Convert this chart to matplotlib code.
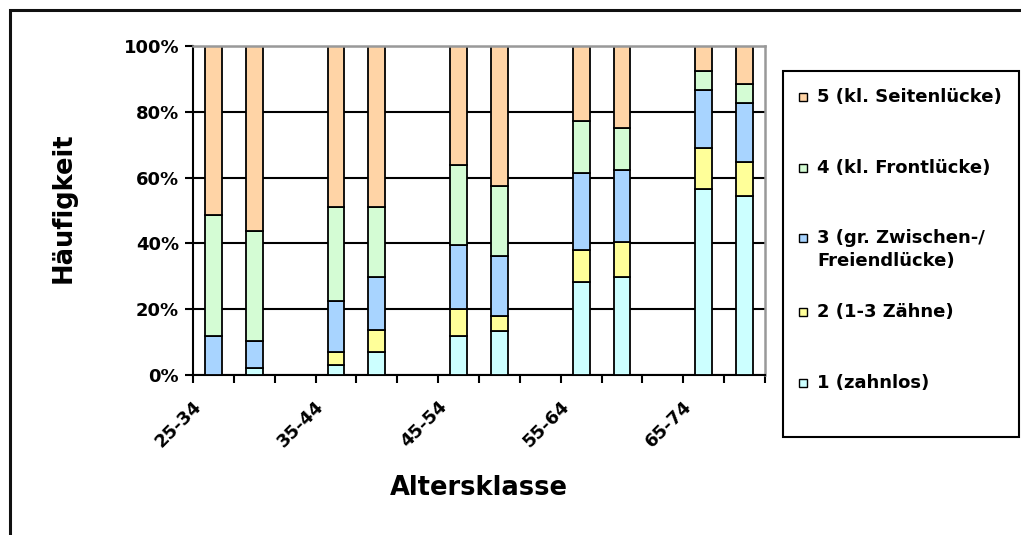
import matplotlib
matplotlib.use("Agg")
import matplotlib.pyplot as plt
from matplotlib.patches import Rectangle
from matplotlib.transforms import ScaledTranslation
import numpy as np

# ---------------- data ----------------
age_groups = ["25-34", "35-44", "45-54", "55-64", "65-74"]
series_names = ["1 (zahnlos)", "2 (1-3 Z\u00e4hne)", "3 (gr. Zwischen-/\nFreiendl\u00fccke)",
                "4 (kl. Frontl\u00fccke)", "5 (kl. Seitenl\u00fccke)"]
series_colors = ["#CCFFFF", "#FFFF99", "#A8D4FF", "#D4FCD4", "#FFD4A6"]
# two bars per age group (percent)
s1_zahnlos = [0.0, 2.0, 3.1, 6.9, 12.0, 13.5, 28.2, 29.8, 56.6, 54.4]
s2_1_3_zaehne = [0.0, 0.0, 3.8, 6.7, 8.1, 4.3, 9.8, 10.5, 12.3, 10.4]
s3_zwischen = [12.0, 8.3, 15.6, 16.2, 19.5, 18.3, 23.5, 22.0, 17.7, 17.8]
s4_front = [36.5, 33.4, 28.5, 21.2, 24.3, 21.4, 15.7, 12.9, 5.8, 5.8]
s5_seiten = [51.5, 56.3, 49.0, 49.0, 36.1, 42.5, 22.8, 24.8, 7.6, 11.6]
series_values = [s1_zahnlos, s2_1_3_zaehne, s3_zwischen, s4_front, s5_seiten]
y_ticks = [0, 20, 40, 60, 80, 100]

W, H = 1021, 535
fig = plt.figure(figsize=(W / 100, H / 100), dpi=100)
plt.rcParams['font.family'] = ['DejaVu Sans']

def fx(x):
    return x / W

def fy(y):
    return 1 - y / H

# outer chart frame (only top/left visible)
fig.add_artist(Rectangle((fx(9.5), fy(560)), fx(1100), fy(10) - fy(560), transform=fig.transFigure,
                         fill=False, edgecolor="#111111", linewidth=2.2, clip_on=False))

ax = fig.add_axes([fx(193), fy(375), fx(765) - fx(193), fy(46) - fy(375)])

n_slots = 3 * len(age_groups) - 1
positions = []
for i in range(len(age_groups)):
    positions += [3 * i, 3 * i + 1]
positions = np.array(positions, dtype=float)

bottom = np.zeros(len(positions))
for vals, col in zip(series_values, series_colors):
    v = np.array(vals)
    ax.bar(positions, v, width=0.41, bottom=bottom, color=col, edgecolor="black",
           linewidth=1.3, zorder=3)
    bottom += v

ax.set_xlim(-0.5, n_slots - 0.5)
ax.set_ylim(0, 100)
ax.set_axisbelow(True)

ax.set_yticks(y_ticks)
ax.set_yticklabels([f"{t}%" for t in y_ticks], fontsize=13, fontweight="bold")
ax.yaxis.grid(True, color="black", linewidth=1.5)
ax.tick_params(axis="y", direction="out", length=6, width=1.5, pad=4)

ax.set_xticks([3 * i for i in range(len(age_groups))])
ax.set_xticklabels(age_groups, fontsize=13, fontweight="bold", rotation=45,
                   ha="right", va="top", rotation_mode="anchor")
ax.set_xticks(np.arange(-0.5, n_slots, 1.0), minor=True)
ax.tick_params(axis="x", which="major", length=0, pad=16)
ax.tick_params(axis="x", which="minor", direction="out", length=6, width=1.5)
for lab in ax.get_xticklabels():
    lab.set_transform(lab.get_transform() + ScaledTranslation(-21 / 100, 0, fig.dpi_scale_trans))

for s in ["left", "bottom"]:
    ax.spines[s].set_color("black")
    ax.spines[s].set_linewidth(1.5)
for s in ["top", "right"]:
    ax.spines[s].set_color("#999999")
    ax.spines[s].set_linewidth(1.8)
ax.spines["top"].set_zorder(4)

ax.set_ylabel("H\u00e4ufigkeit", fontsize=18.5, fontweight="bold", va="center")
ax.yaxis.set_label_coords((64 - 193) / 572, 0.51)
ax.set_xlabel("Altersklasse", fontsize=18.5, fontweight="bold", va="center")
ax.xaxis.set_label_coords(0.5, (375 - 488) / 329)

# legend (manual, Excel style)
fig.add_artist(Rectangle((fx(783), fy(437)), fx(1019) - fx(783), fy(71) - fy(437),
                         transform=fig.transFigure, fill=False, edgecolor="black", linewidth=1.5))
row_y = [383, 312, 238, 168, 97]
for name, col, yy in zip(series_names, series_colors, row_y):
    fig.add_artist(Rectangle((fx(799), fy(yy + 4)), fx(8), fy(0) - fy(8), transform=fig.transFigure,
                             facecolor=col, edgecolor="black", linewidth=1.0))
    fig.text(fx(817), fy(yy - 9), name, fontsize=13, fontweight="bold", ha="left", va="top",
             linespacing=1.35)

fig.savefig("out.png", dpi=100)
